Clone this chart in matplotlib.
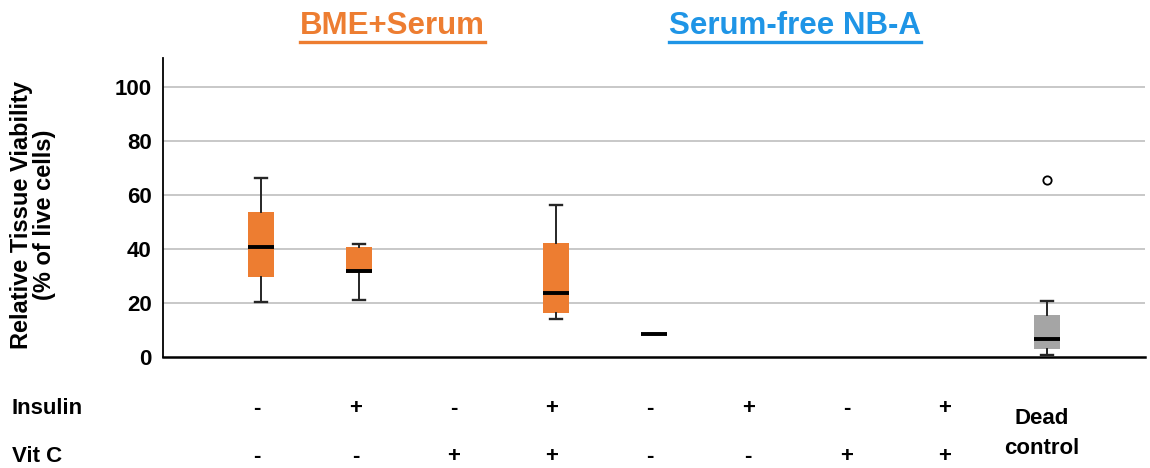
import numpy as np
import matplotlib.pyplot as plt
from matplotlib.lines import Line2D

plt.rcParams['font.family'] = ['Liberation Sans', 'DejaVu Sans']
plt.rcParams['font.weight'] = 'bold'

# conditions (left to right)
insulin = ['-', '+', '-', '+', '-', '+', '-', '+']
vitc = ['-', '-', '+', '+', '-', '-', '+', '+']

# box stats: (whislo, q1, med, q3, whishi), None = no data
boxes = [
    (20.4, 29.7, 40.9, 53.6, 66.4),
    (21.2, 31.0, 31.9, 40.6, 42.0),
    None,
    (14.1, 16.4, 23.7, 42.2, 56.4),
    (8.4, 8.4, 8.4, 8.4, 8.4),
    None,
    None,
    None,
    (0.9, 3.1, 6.5, 15.6, 20.7),
]
fliers = [[], [], [], [], [], [], [], [], [65.6]]
box_colors = ['#ED7D31'] * 8 + ['#A5A5A5']

fig = plt.figure(figsize=(11.5, 4.68), dpi=100)
ax = fig.add_axes([0.1417, 0.2372, 0.8540, 0.6388])

stats, pos, cols = [], [], []
for i, b in enumerate(boxes):
    if b is None:
        continue
    stats.append(dict(whislo=b[0], q1=b[1], med=b[2], q3=b[3], whishi=b[4],
                      fliers=fliers[i]))
    pos.append(i + 1)
    cols.append(box_colors[i])

bp = ax.bxp(stats, positions=pos, widths=0.265, capwidths=0.12,
            patch_artist=True, showfliers=True,
            boxprops=dict(edgecolor='none', linewidth=0),
            medianprops=dict(color='black', linewidth=2.8, solid_capstyle='butt'),
            whiskerprops=dict(color='#262626', linewidth=1.4),
            capprops=dict(color='#262626', linewidth=1.7),
            flierprops=dict(marker='o', markerfacecolor='white',
                            markeredgecolor='black', markersize=6,
                            markeredgewidth=1.3),
            zorder=3)
for patch, c in zip(bp['boxes'], cols):
    patch.set_facecolor(c)

ax.set_xlim(0, 10)
ax.set_ylim(0, 110.7)
ax.set_yticks([0, 20, 40, 60, 80, 100])
ax.set_yticklabels(['0', '20', '40', '60', '80', '100'], fontsize=16, fontweight='bold')
ax.set_xticks([])
ax.tick_params(axis='y', length=0, pad=8)
for y in [20, 40, 60, 80, 100]:
    ax.axhline(y, color='#BFBFBF', linewidth=1.2, zorder=0)
for s in ['top', 'right']:
    ax.spines[s].set_visible(False)
ax.spines['left'].set_linewidth(1.3)
ax.spines['bottom'].set_linewidth(1.8)

fig.text(0.019, 0.541, 'Relative Tissue Viability', rotation=90, ha='center',
         va='center', fontsize=17, fontweight='bold')
fig.text(0.039, 0.541, '(% of live cells)', rotation=90, ha='center',
         va='center', fontsize=17, fontweight='bold')

# condition rows
trans_fig = plt.matplotlib.transforms.blended_transform_factory(ax.transData, fig.transFigure)
fig.text(0.010, 1 - 409 / 468, 'Insulin', ha='left', va='center', fontsize=16, fontweight='bold')
fig.text(0.010, 1 - 457 / 468, 'Vit C', ha='left', va='center', fontsize=16, fontweight='bold')
for i in range(8):
    fig.text(i + 0.96, 1 - 409 / 468, insulin[i], transform=trans_fig, ha='center',
             va='center', fontsize=16, fontweight='bold')
    fig.text(i + 0.96, 1 - 457 / 468, vitc[i], transform=trans_fig, ha='center',
             va='center', fontsize=16, fontweight='bold')
fig.text(9 - 0.05, 1 - 418 / 468, 'Dead', transform=trans_fig, ha='center',
         va='center', fontsize=16, fontweight='bold')
fig.text(9 - 0.05, 1 - 449 / 468, 'control', transform=trans_fig, ha='center',
         va='center', fontsize=16, fontweight='bold')

# group titles with underline
titles = [('BME+Serum', 392 / 1150, '#ED7D31'), ('Serum-free NB-A', 795 / 1150, '#1F95E6')]
renderer = fig.canvas.get_renderer()
for txt, xc, col in titles:
    t = fig.text(xc, 1 - 26 / 468, txt, ha='center', va='center', fontsize=22.5,
                 fontweight='bold', color=col)
    bb = t.get_window_extent(renderer).transformed(fig.transFigure.inverted())
    fig.add_artist(Line2D([bb.x0, bb.x1], [1 - 42 / 468] * 2, color=col,
                          linewidth=2.4, transform=fig.transFigure))

fig.savefig('out.png', dpi=100)
